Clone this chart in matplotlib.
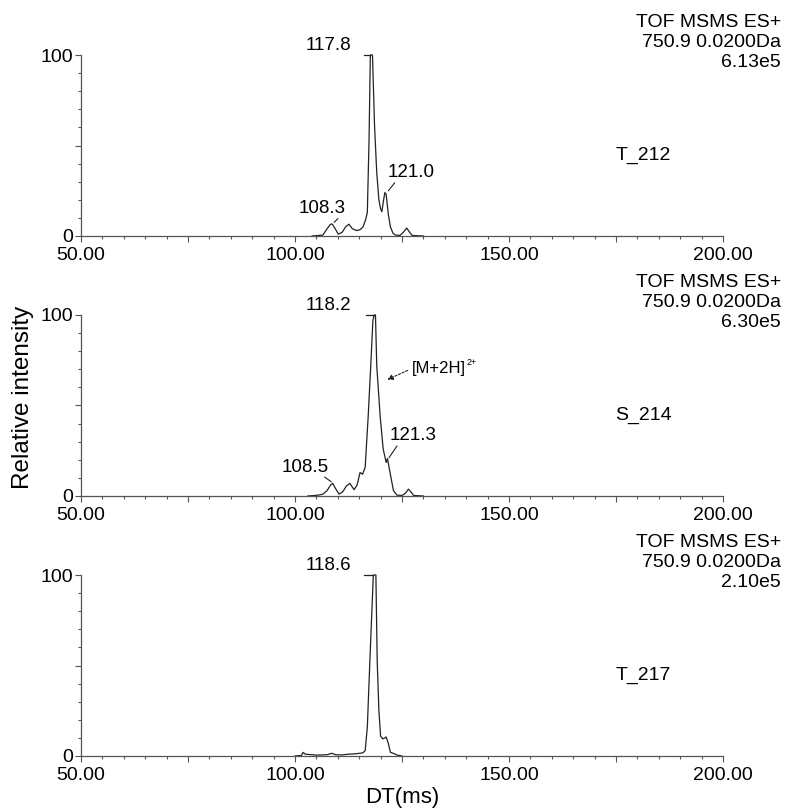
import numpy as np
import matplotlib
matplotlib.use("Agg")
import matplotlib.pyplot as plt
from matplotlib.ticker import MultipleLocator, FixedLocator, FuncFormatter

plt.rcParams['font.family'] = ['Liberation Sans', 'DejaVu Sans']

# drift time traces (DT in ms, relative intensity %)
t212_x = [104, 106.5, 107.5, 108.3, 108.7, 109.4, 110.1, 111.0, 111.8, 112.6, 113.4, 114.4,
          115.2, 115.9, 116.5, 116.9, 117.3, 117.6, 118.1, 118.6, 119.1, 119.6, 120.0, 120.3,
          120.7, 121.0, 121.3, 121.8, 122.3, 122.9, 123.5, 124.5, 125.3, 126.1, 126.8, 127.4, 130]
t212_y = [0, 0.5, 4, 6.5, 6.6, 4, 1, 2, 5, 6.5, 4, 3,
          3.5, 5, 9, 13, 53, 100, 100, 60, 35, 20, 15, 13.4,
          20, 24, 23, 12, 5, 1.5, 0.5, 0.3, 2, 4.4, 2, 0.3, 0]

s214_x = [103, 104.7, 105.5, 106.5, 107.5, 108.3, 108.8, 109.5, 110.3, 111.2, 112.0, 112.8,
          113.8, 114.5, 115.2, 115.8, 116.4, 117.1, 117.7, 118.2, 118.5, 118.8, 119.1, 119.9,
          120.6, 121.3, 121.6, 122.2, 123.0, 123.8, 125.0, 125.8, 126.5, 127.2, 127.7, 130]
s214_y = [0, 0.3, 0.5, 1, 3, 6, 7, 4, 1, 2.5, 5.5, 7,
          3.5, 6, 13, 12, 16, 44, 72, 97, 100, 100, 72, 44,
          26, 18.5, 20.7, 13, 3, 0.5, 0.3, 1.5, 3.8, 2, 0.3, 0]

t217_x = [100, 101.5, 101.9, 102.4, 103.5, 105, 107.5, 108.6, 109.5, 111, 112.5, 114,
          115.2, 115.9, 116.4, 116.9, 117.5, 118.3, 118.9, 119.2, 119.6, 120.0, 120.5, 121.0,
          121.3, 121.8, 122.3, 123.2, 123.8, 125]
t217_y = [0, 0.3, 2, 1, 0.8, 0.5, 0.7, 1.5, 0.7, 0.6, 1.0, 1.2,
          1.5, 1.8, 3, 16, 53, 100, 100, 53, 25, 11, 9.5, 10,
          10.5, 7, 2, 1.3, 0.5, 0]

traces = [(t212_x, t212_y), (s214_x, s214_y), (t217_x, t217_y)]
samples = ['T_212', 'S_214', 'T_217']
scales = ['6.13e5', '6.30e5', '2.10e5']
header = ['TOF MSMS ES+', '750.9 0.0200Da']

# apex label and flat apex bar
apex_lbl = ['117.8', '118.2', '118.6']
apex_bar = [(116.2, 117.6), (116.6, 118.5), (116.2, 118.3)]

# other peak labels: (panel, text, text x, text y, point x, point y)
peak_lbl = [
    (0, '108.3', 106.4, 12.7, 108.7, 6.5),
    (0, '121.0', 127.2, 32.6, 121.4, 23.8),
    (1, '108.5', 102.3, 13.3, 109.0, 7.0),
    (1, '121.3', 127.7, 30.9, 121.6, 19.9),
]

W, H = 790, 809
fig = plt.figure(figsize=(W / 100, H / 100), dpi=100)

lc = '#222222'
sc = '#555555'
axes = []
for i in range(3):
    top = 55 + 260 * i
    bot = 236 + 260 * i
    ax = fig.add_axes([81 / W, 1 - bot / H, 642 / W, (bot - top) / H])
    axes.append(ax)
    x, y = traces[i]
    ax.plot(x, y, color=lc, lw=0.9, clip_on=False)
    a, b = apex_bar[i]
    ax.plot([a, b], [100, 100], color=lc, lw=0.9, clip_on=False)
    ax.set_xlim(50, 200)
    ax.set_ylim(0, 100)
    for s in ['top', 'right']:
        ax.spines[s].set_visible(False)
    for s in ['left', 'bottom']:
        ax.spines[s].set_color(sc)
        ax.spines[s].set_linewidth(0.9)

    ax.xaxis.set_major_locator(MultipleLocator(25))
    ax.xaxis.set_minor_locator(MultipleLocator(5))
    ax.xaxis.set_major_formatter(FuncFormatter(lambda v, p: '%.2f' % v if v % 50 == 0 else ''))
    ax.yaxis.set_major_locator(FixedLocator([0, 50, 100]))
    ax.yaxis.set_minor_locator(MultipleLocator(10))
    ax.yaxis.set_major_formatter(FuncFormatter(lambda v, p: '' if v == 50 else '%d' % v))
    ax.tick_params(axis='both', which='major', length=4.5, width=0.8, color=sc,
                   labelsize=14)
    ax.tick_params(axis='x', which='major', pad=3.5)
    ax.tick_params(axis='y', which='major', pad=1)
    ax.tick_params(axis='both', which='minor', length=2, width=0.8, color=sc)

    ax.text(107.8, 102.8, apex_lbl[i], ha='center', va='baseline', fontsize=13.5)
    ax.text(174.8, 44.5, samples[i], ha='left', va='center', fontsize=14)

    lines = header + [scales[i]]
    offs = [20.2, 5.8, -8.6]
    for t, dy in zip(lines, offs):
        ax.annotate(t, xy=(1, 1), xycoords='axes fraction', xytext=(41.8, dy),
                    textcoords='offset points', ha='right', va='baseline', fontsize=14)

for p, t, tx, ty, px, py in peak_lbl:
    ax = axes[p]
    ax.text(tx, ty, t, ha='center', va='baseline', fontsize=13.5)
    ax.annotate('', xy=(px, py), xytext=(tx - 3.5 if tx > px else tx + 4.1, ty - 2),
                arrowprops=dict(arrowstyle='-', color=lc, lw=0.8))

# charge state annotation
ax = axes[1]
ax.annotate('', xy=(121.0, 63.7), xytext=(126.9, 70.0),
            arrowprops=dict(arrowstyle='-|>', color=lc, lw=0.8, ls=(0, (2, 1.5)),
                            mutation_scale=8))
ax.text(127.3, 70.2, '[M+2H]', ha='left', va='center', fontsize=12)
ax.text(140.0, 74.0, '2+', ha='left', va='center', fontsize=6.5)

fig.text(402 / W, 1 - 797 / H, 'DT(ms)', ha='center', va='center', fontsize=16)
fig.text(23 / W, 1 - 397 / H, 'Relative intensity', ha='center', va='center',
         rotation=90, fontsize=17.5)

fig.savefig('out.png', dpi=100)
